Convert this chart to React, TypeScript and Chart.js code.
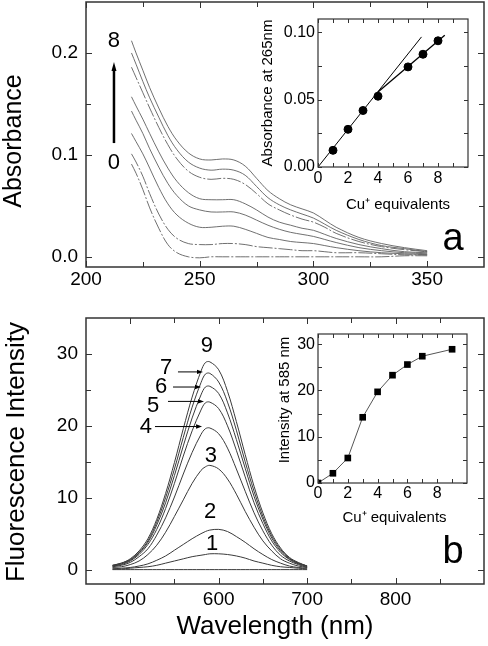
import React, { useEffect, useRef } from 'react';
import { Chart, registerables } from 'chart.js';

Chart.register(...registerables);

const FONT = "'Liberation Sans', Arial, Helvetica, sans-serif";

// ---------------- Panel a: absorbance spectra ----------------
const absWavelengths = [220, 222, 225, 228, 232, 236, 240, 245, 250, 255, 260, 265, 270, 275, 280, 285, 290, 295, 300, 305, 310, 320, 330, 340, 350];
const abs8 = [0.212, 0.200, 0.183, 0.166, 0.146, 0.128, 0.114, 0.102, 0.096, 0.095, 0.096, 0.095, 0.089, 0.077, 0.065, 0.057, 0.051, 0.047, 0.043, 0.036, 0.029, 0.019, 0.013, 0.009, 0.006];
const abs7 = [0.200, 0.189, 0.172, 0.156, 0.137, 0.119, 0.105, 0.093, 0.087, 0.085, 0.086, 0.085, 0.080, 0.069, 0.058, 0.051, 0.046, 0.042, 0.038, 0.032, 0.026, 0.017, 0.011, 0.008, 0.005];
const abs6 = [0.186, 0.176, 0.161, 0.146, 0.127, 0.110, 0.096, 0.084, 0.078, 0.076, 0.077, 0.076, 0.071, 0.062, 0.052, 0.046, 0.041, 0.037, 0.034, 0.029, 0.023, 0.015, 0.010, 0.007, 0.005];
const abs4 = [0.157, 0.148, 0.135, 0.121, 0.103, 0.087, 0.074, 0.063, 0.057, 0.056, 0.056, 0.056, 0.052, 0.046, 0.039, 0.034, 0.031, 0.028, 0.026, 0.022, 0.018, 0.012, 0.008, 0.005, 0.004];
const abs3 = [0.143, 0.134, 0.121, 0.106, 0.088, 0.072, 0.060, 0.050, 0.046, 0.044, 0.044, 0.044, 0.041, 0.036, 0.031, 0.027, 0.024, 0.022, 0.020, 0.017, 0.014, 0.009, 0.006, 0.004, 0.003];
const abs2 = [0.121, 0.113, 0.101, 0.087, 0.068, 0.052, 0.041, 0.033, 0.029, 0.029, 0.030, 0.030, 0.027, 0.023, 0.019, 0.017, 0.015, 0.014, 0.013, 0.011, 0.009, 0.006, 0.004, 0.003, 0.002];
const abs1 = [0.101, 0.093, 0.079, 0.062, 0.042, 0.027, 0.018, 0.013, 0.012, 0.012, 0.013, 0.013, 0.012, 0.010, 0.009, 0.008, 0.007, 0.006, 0.006, 0.005, 0.004, 0.004, 0.003, 0.002, 0.002];
const abs0 = [0.091, 0.082, 0.066, 0.048, 0.028, 0.012, 0.004, 0.000, -0.001, 0.000, 0.000, 0.000, 0.000, 0.000, 0.000, 0.000, 0.000, 0.000, 0.000, 0.000, 0.000, 0.000, 0.000, 0.001, 0.001];
const absCurves = [abs8, abs7, abs6, abs4, abs3, abs2, abs1, abs0];
const absDashed = [false, false, true, false, false, false, true, true];

const absTicksX = [200, 250, 300, 350];
const absMinorX = [225, 275, 325];
const absTicksY = [0, 0.1, 0.2];
const absMinorY = [0.05, 0.15];

// ---------------- Inset a: absorbance at 265 nm ----------------
const insetAEquiv = [1, 2, 3, 4, 6, 7, 8];
const insetAAbs = [0.0124, 0.028, 0.042, 0.0526, 0.0744, 0.0838, 0.0938];
const fitA1X = [0, 6.9];
const fitA1Y = [0, 0.0967];
const fitA2X = [4, 8.45];
const fitA2Y = [0.0558, 0.098];
const insetATicksX = [0, 2, 4, 6, 8];
const insetAMinorX = [1, 3, 5, 7, 9];
const insetATicksY = [0, 0.05, 0.1];
const insetAMinorY = [0.025, 0.075];

// ---------------- Panel b: fluorescence spectra ----------------
const flWavelengths = [480, 490, 500, 510, 520, 530, 540, 550, 560, 570, 580, 585, 590, 600, 610, 620, 630, 640, 650, 660, 670, 680, 690, 700];
const fl9 = [0.6, 0.9, 1.5, 2.6, 4.3, 7.0, 10.6, 14.9, 19.6, 24.0, 27.6, 28.8, 28.9, 27.8, 24.8, 20.6, 16.0, 11.6, 7.9, 5.0, 3.0, 1.7, 1.0, 0.5];
const fl7 = [0.6, 0.9, 1.4, 2.4, 4.0, 6.6, 10.0, 14.0, 18.4, 22.6, 26.0, 27.2, 27.3, 26.1, 23.3, 19.4, 15.0, 10.9, 7.4, 4.7, 2.8, 1.6, 0.9, 0.5];
const fl6 = [0.5, 0.8, 1.3, 2.3, 3.8, 6.2, 9.3, 13.1, 17.2, 21.1, 24.3, 25.4, 25.5, 24.5, 21.8, 18.1, 14.1, 10.2, 7.0, 4.4, 2.6, 1.5, 0.9, 0.5];
const fl5 = [0.5, 0.7, 1.2, 2.1, 3.5, 5.6, 8.5, 12.0, 15.8, 19.3, 22.2, 23.2, 23.3, 22.4, 20.0, 16.6, 12.9, 9.3, 6.4, 4.0, 2.4, 1.4, 0.8, 0.4];
const fl4 = [0.4, 0.6, 1.0, 1.8, 2.9, 4.8, 7.2, 10.1, 13.3, 16.3, 18.8, 19.6, 19.7, 18.9, 16.9, 14.0, 10.9, 7.9, 5.4, 3.4, 2.0, 1.2, 0.7, 0.3];
const fl3 = [0.3, 0.4, 0.7, 1.2, 2.1, 3.4, 5.2, 7.4, 9.7, 12.0, 13.8, 14.3, 14.5, 14.0, 12.6, 10.5, 8.1, 5.9, 4.0, 2.6, 1.5, 0.9, 0.5, 0.3];
const fl2 = [0.1, 0.2, 0.3, 0.5, 0.8, 1.3, 1.9, 2.7, 3.5, 4.3, 5.0, 5.3, 5.5, 5.6, 5.3, 4.6, 3.8, 2.9, 2.1, 1.4, 0.9, 0.5, 0.3, 0.2];
const fl1 = [0.1, 0.1, 0.2, 0.3, 0.4, 0.6, 0.9, 1.2, 1.5, 1.8, 2.0, 2.1, 2.2, 2.2, 2.1, 1.9, 1.6, 1.2, 0.9, 0.6, 0.4, 0.3, 0.2, 0.1];
const fl0 = [0, 0, 0, 0, 0, 0, 0, 0, 0, 0, 0, 0, 0, 0, 0, 0, 0, 0, 0, 0, 0, 0, 0, 0];
const flCurves = [fl9, fl7, fl6, fl5, fl4, fl3, fl2, fl1, fl0];

const flTicksX = [500, 600, 700, 800];
const flMinorX = [550, 650, 750, 850];
const flTicksY = [0, 10, 20, 30];
const flMinorY = [5, 15, 25];

// ---------------- Inset b: intensity at 585 nm ----------------
const insetBEquiv = [0, 1, 2, 3, 4, 5, 6, 7, 9];
const insetBInt = [0, 2.1, 5.4, 14.2, 19.7, 23.3, 25.6, 27.4, 28.9];
const insetBTicksX = [0, 2, 4, 6, 8];
const insetBMinorX = [1, 3, 5, 7, 9];
const insetBTicksY = [0, 10, 20, 30];
const insetBMinorY = [5, 15, 25];

// ---------------- helpers ----------------
type TextItem = {
  text: string; x: number; y: number; size: number; data?: boolean;
  rot?: number; align?: CanvasTextAlign; base?: CanvasTextBaseline;
};
type ArrowItem = { x1: number; y1: number; x2: number; y2: number; width: number; head: number; headW: number };
type Decor = {
  frameWidth: number; frameColor: string;
  xMajor: number[]; xMinor: number[]; yMajor: number[]; yMinor: number[];
  major: number; minor: number; tickWidth: number;
  texts: TextItem[]; arrows: ArrowItem[];
};

function makeDecor(d: Decor) {
  return {
    id: 'decor',
    afterDraw(chart: any) {
      const ctx: CanvasRenderingContext2D = chart.ctx;
      const { left, right, top, bottom } = chart.chartArea;
      const xs = chart.scales.x;
      const ys = chart.scales.y;
      ctx.save();
      ctx.strokeStyle = d.frameColor;
      ctx.lineWidth = d.tickWidth;
      ctx.beginPath();
      const xT = (vals: number[], len: number) => {
        vals.forEach((v) => {
          const p = Math.round(xs.getPixelForValue(v)) + 0.5;
          ctx.moveTo(p, bottom); ctx.lineTo(p, bottom - len);
          ctx.moveTo(p, top); ctx.lineTo(p, top + len);
        });
      };
      const yT = (vals: number[], len: number) => {
        vals.forEach((v) => {
          const p = Math.round(ys.getPixelForValue(v)) + 0.5;
          ctx.moveTo(left, p); ctx.lineTo(left + len, p);
          ctx.moveTo(right, p); ctx.lineTo(right - len, p);
        });
      };
      xT(d.xMajor, d.major); xT(d.xMinor, d.minor);
      yT(d.yMajor, d.major); yT(d.yMinor, d.minor);
      ctx.stroke();
      ctx.lineWidth = d.frameWidth;
      ctx.strokeRect(left, top, right - left, bottom - top);

      ctx.fillStyle = '#000';
      d.texts.forEach((t) => {
        const px = t.data ? xs.getPixelForValue(t.x) : t.x;
        const py = t.data ? ys.getPixelForValue(t.y) : t.y;
        ctx.save();
        ctx.translate(px, py);
        if (t.rot) ctx.rotate(t.rot);
        ctx.font = `${t.size}px ${FONT}`;
        ctx.textAlign = t.align || 'center';
        ctx.textBaseline = t.base || 'middle';
        ctx.fillText(t.text, 0, 0);
        ctx.restore();
      });

      d.arrows.forEach((a) => {
        const x1 = xs.getPixelForValue(a.x1), y1 = ys.getPixelForValue(a.y1);
        const x2 = xs.getPixelForValue(a.x2), y2 = ys.getPixelForValue(a.y2);
        const ang = Math.atan2(y2 - y1, x2 - x1);
        const bx = x2 - Math.cos(ang) * a.head, by = y2 - Math.sin(ang) * a.head;
        ctx.strokeStyle = '#000';
        ctx.lineWidth = a.width;
        ctx.beginPath();
        ctx.moveTo(x1, y1); ctx.lineTo(bx, by);
        ctx.stroke();
        ctx.beginPath();
        ctx.moveTo(x2, y2);
        ctx.lineTo(bx - Math.sin(ang) * a.headW, by + Math.cos(ang) * a.headW);
        ctx.lineTo(bx + Math.sin(ang) * a.headW, by - Math.cos(ang) * a.headW);
        ctx.closePath();
        ctx.fillStyle = '#000';
        ctx.fill();
      });
      ctx.restore();
    },
  };
}

type AxisCfg = {
  min: number; max: number; ticks: number[]; fmt: (v: number) => string;
  size: number; pad: number; fixed: number;
};

function axis(c: AxisCfg, horizontal: boolean) {
  return {
    type: 'linear',
    min: c.min,
    max: c.max,
    afterFit: (s: any) => {
      if (horizontal) s.height = c.fixed; else s.width = c.fixed;
      s.paddingTop = 0;
      s.paddingBottom = 0;
      s.paddingLeft = 0;
      s.paddingRight = 0;
    },
    afterBuildTicks: (s: any) => {
      s.ticks = c.ticks.map((v) => ({ value: v }));
    },
    ticks: {
      callback: (v: any) => c.fmt(Number(v)),
      font: { family: FONT, size: c.size },
      color: '#000',
      padding: c.pad,
      maxRotation: 0,
      minRotation: 0,
      autoSkip: false,
    },
    grid: { display: false, drawTicks: false },
    border: { display: false },
  };
}

function options(padding: any, x: AxisCfg, y: AxisCfg) {
  return {
    responsive: false,
    maintainAspectRatio: false,
    animation: false,
    events: [],
    layout: { padding },
    plugins: { legend: { display: false }, tooltip: { enabled: false }, title: { display: false } },
    scales: { x: axis(x, true), y: axis(y, false) },
  };
}

const pts = (xs: number[], ys: number[]) => xs.map((x, i) => ({ x, y: ys[i] }));

const SUP = 'Cu\u207A equivalents';

export default function App() {
  const aRef = useRef<HTMLCanvasElement>(null);
  const aiRef = useRef<HTMLCanvasElement>(null);
  const bRef = useRef<HTMLCanvasElement>(null);
  const biRef = useRef<HTMLCanvasElement>(null);

  useEffect(() => {
    const charts: Chart[] = [];

    // Panel a
    charts.push(new Chart(aRef.current as HTMLCanvasElement, {
      type: 'line',
      data: {
        datasets: absCurves.map((c, i) => ({
          data: pts(absWavelengths, c),
          borderColor: '#606060',
          borderWidth: 0.9,
          borderDash: absDashed[i] ? [14, 2, 2, 2] : [],
          pointRadius: 0,
          fill: false,
          tension: 0.35,
        })),
      },
      options: options(
        { left: 0, top: 2, right: 4, bottom: 0 },
        { min: 200, max: 375, ticks: absTicksX, fmt: (v) => String(v), size: 19, pad: 1, fixed: 33 },
        { min: -0.01, max: 0.25, ticks: absTicksY, fmt: (v) => v.toFixed(1), size: 19, pad: 8, fixed: 86 },
      ) as any,
      plugins: [makeDecor({
        frameWidth: 1.5, frameColor: '#333', tickWidth: 1,
        xMajor: absTicksX, xMinor: absMinorX, yMajor: absTicksY, yMinor: absMinorY,
        major: 6, minor: 5,
        texts: [
          { text: 'Absorbance', x: 14, y: 141, size: 25, rot: -Math.PI / 2 },
          { text: '8', x: 212.3, y: 0.2118, size: 22, data: true },
          { text: '0', x: 212.3, y: 0.092, size: 22, data: true },
          { text: 'a', x: 453, y: 250, size: 38, base: 'alphabetic' },
        ],
        arrows: [{ x1: 212.3, y1: 0.1116, x2: 212.3, y2: 0.1912, width: 2.5, head: 9, headW: 2.5 }],
      }) as any],
    }));

    // Inset a
    charts.push(new Chart(aiRef.current as HTMLCanvasElement, {
      type: 'line',
      data: {
        datasets: [
          {
            data: pts(insetAEquiv, insetAAbs),
            showLine: false,
            pointRadius: 4,
            pointStyle: 'circle',
            pointBackgroundColor: '#000',
            pointBorderColor: '#000',
            borderColor: '#000',
          },
          { data: pts(fitA1X, fitA1Y), borderColor: '#000', borderWidth: 1, pointRadius: 0 },
          { data: pts(fitA2X, fitA2Y), borderColor: '#000', borderWidth: 1.3, pointRadius: 0 },
        ],
      },
      options: options(
        { left: 0, top: 9, right: 12, bottom: 0 },
        { min: 0, max: 10, ticks: insetATicksX, fmt: (v) => String(v), size: 16, pad: 2, fixed: 58 },
        { min: 0, max: 0.11, ticks: insetATicksY, fmt: (v) => v.toFixed(2), size: 16, pad: 3, fixed: 68 },
      ) as any,
      plugins: [makeDecor({
        frameWidth: 1.2, frameColor: '#333', tickWidth: 1,
        xMajor: insetATicksX, xMinor: insetAMinorX, yMajor: insetATicksY, yMinor: insetAMinorY,
        major: 4, minor: 4,
        texts: [
          { text: 'Absorbance at 265nm', x: 18, y: 83, size: 15, rot: -Math.PI / 2 },
          { text: SUP, x: 148, y: 195, size: 15 },
        ],
        arrows: [],
      }) as any],
    }));

    // Panel b
    charts.push(new Chart(bRef.current as HTMLCanvasElement, {
      type: 'line',
      data: {
        datasets: flCurves.map((c) => ({
          data: pts(flWavelengths, c),
          borderColor: '#3a3a3a',
          borderWidth: 1,
          pointRadius: 0,
          fill: false,
          tension: 0.35,
        })),
      },
      options: options(
        { left: 0, top: 18, right: 4, bottom: 0 },
        { min: 450, max: 900, ticks: flTicksX, fmt: (v) => String(v), size: 19, pad: 4, fixed: 62 },
        { min: -2, max: 35, ticks: flTicksY, fmt: (v) => String(v), size: 19, pad: 8, fixed: 86 },
      ) as any,
      plugins: [makeDecor({
        frameWidth: 1.5, frameColor: '#333', tickWidth: 1,
        xMajor: flTicksX, xMinor: flMinorX, yMajor: flTicksY, yMinor: flMinorY,
        major: 6, minor: 5,
        texts: [
          { text: 'Fluorescence Intensity', x: 16.5, y: 152, size: 26, rot: -Math.PI / 2 },
          { text: 'Wavelength (nm)', x: 275, y: 327, size: 26 },
          { text: 'b', x: 453, y: 263, size: 38, base: 'alphabetic' },
          { text: '9', x: 586.8, y: 31.1, size: 22, data: true },
          { text: '7', x: 540.5, y: 28.0, size: 22, data: true },
          { text: '6', x: 534.8, y: 25.4, size: 22, data: true },
          { text: '5', x: 525.8, y: 22.8, size: 22, data: true },
          { text: '4', x: 517.8, y: 19.8, size: 22, data: true },
          { text: '3', x: 591.3, y: 15.8, size: 22, data: true },
          { text: '2', x: 590.2, y: 8.0, size: 22, data: true },
          { text: '1', x: 592.5, y: 3.6, size: 22, data: true },
        ],
        arrows: [
          { x1: 554.0, y1: 27.5, x2: 582.3, y2: 27.5, width: 1, head: 6, headW: 2.2 },
          { x1: 548.4, y1: 25.4, x2: 580.0, y2: 25.4, width: 1, head: 6, headW: 2.2 },
          { x1: 542.7, y1: 23.4, x2: 583.4, y2: 23.4, width: 1, head: 6, headW: 2.2 },
          { x1: 528.0, y1: 19.9, x2: 581.2, y2: 19.9, width: 1, head: 6, headW: 2.2 },
        ],
      }) as any],
    }));

    // Inset b
    charts.push(new Chart(biRef.current as HTMLCanvasElement, {
      type: 'line',
      data: {
        datasets: [
          {
            data: pts(insetBEquiv, insetBInt),
            borderColor: '#555',
            borderWidth: 1,
            pointRadius: 4.7,
            pointStyle: 'rect',
            pointBackgroundColor: '#000',
            pointBorderColor: '#000',
            pointBorderWidth: 0,
          },
        ],
      },
      options: options(
        { left: 0, top: 14, right: 13, bottom: 0 },
        { min: 0, max: 10, ticks: insetBTicksX, fmt: (v) => String(v), size: 16, pad: 1, fixed: 52 },
        { min: 0, max: 32.2, ticks: insetBTicksY, fmt: (v) => String(v), size: 16, pad: 3, fixed: 68 },
      ) as any,
      plugins: [makeDecor({
        frameWidth: 1.2, frameColor: '#333', tickWidth: 1,
        xMajor: insetBTicksX, xMinor: insetBMinorX, yMajor: insetBTicksY, yMinor: insetBMinorY,
        major: 4, minor: 4,
        texts: [
          { text: 'Intensity at 585 nm', x: 35, y: 80, size: 15, rot: -Math.PI / 2 },
          { text: SUP, x: 144.5, y: 197.5, size: 15 },
        ],
        arrows: [],
      }) as any],
    }));

    return () => charts.forEach((c) => c.destroy());
  }, []);

  const abs = (l: number, t: number): React.CSSProperties => ({ position: 'absolute', left: l, top: t });

  return (
    <div style={{ position: 'absolute', left: 0, top: 0, width: 488, height: 646, background: '#fff' }}>
      <canvas ref={aRef} width={488} height={300} style={{ ...abs(0, 0), width: 488, height: 300 }} />
      <canvas ref={bRef} width={488} height={346} style={{ ...abs(0, 300), width: 488, height: 346 }} />
      <canvas ref={aiRef} width={230} height={215} style={{ ...abs(250, 10), width: 230, height: 215 }} />
      <canvas ref={biRef} width={230} height={215} style={{ ...abs(250, 320), width: 230, height: 215 }} />
    </div>
  );
}
